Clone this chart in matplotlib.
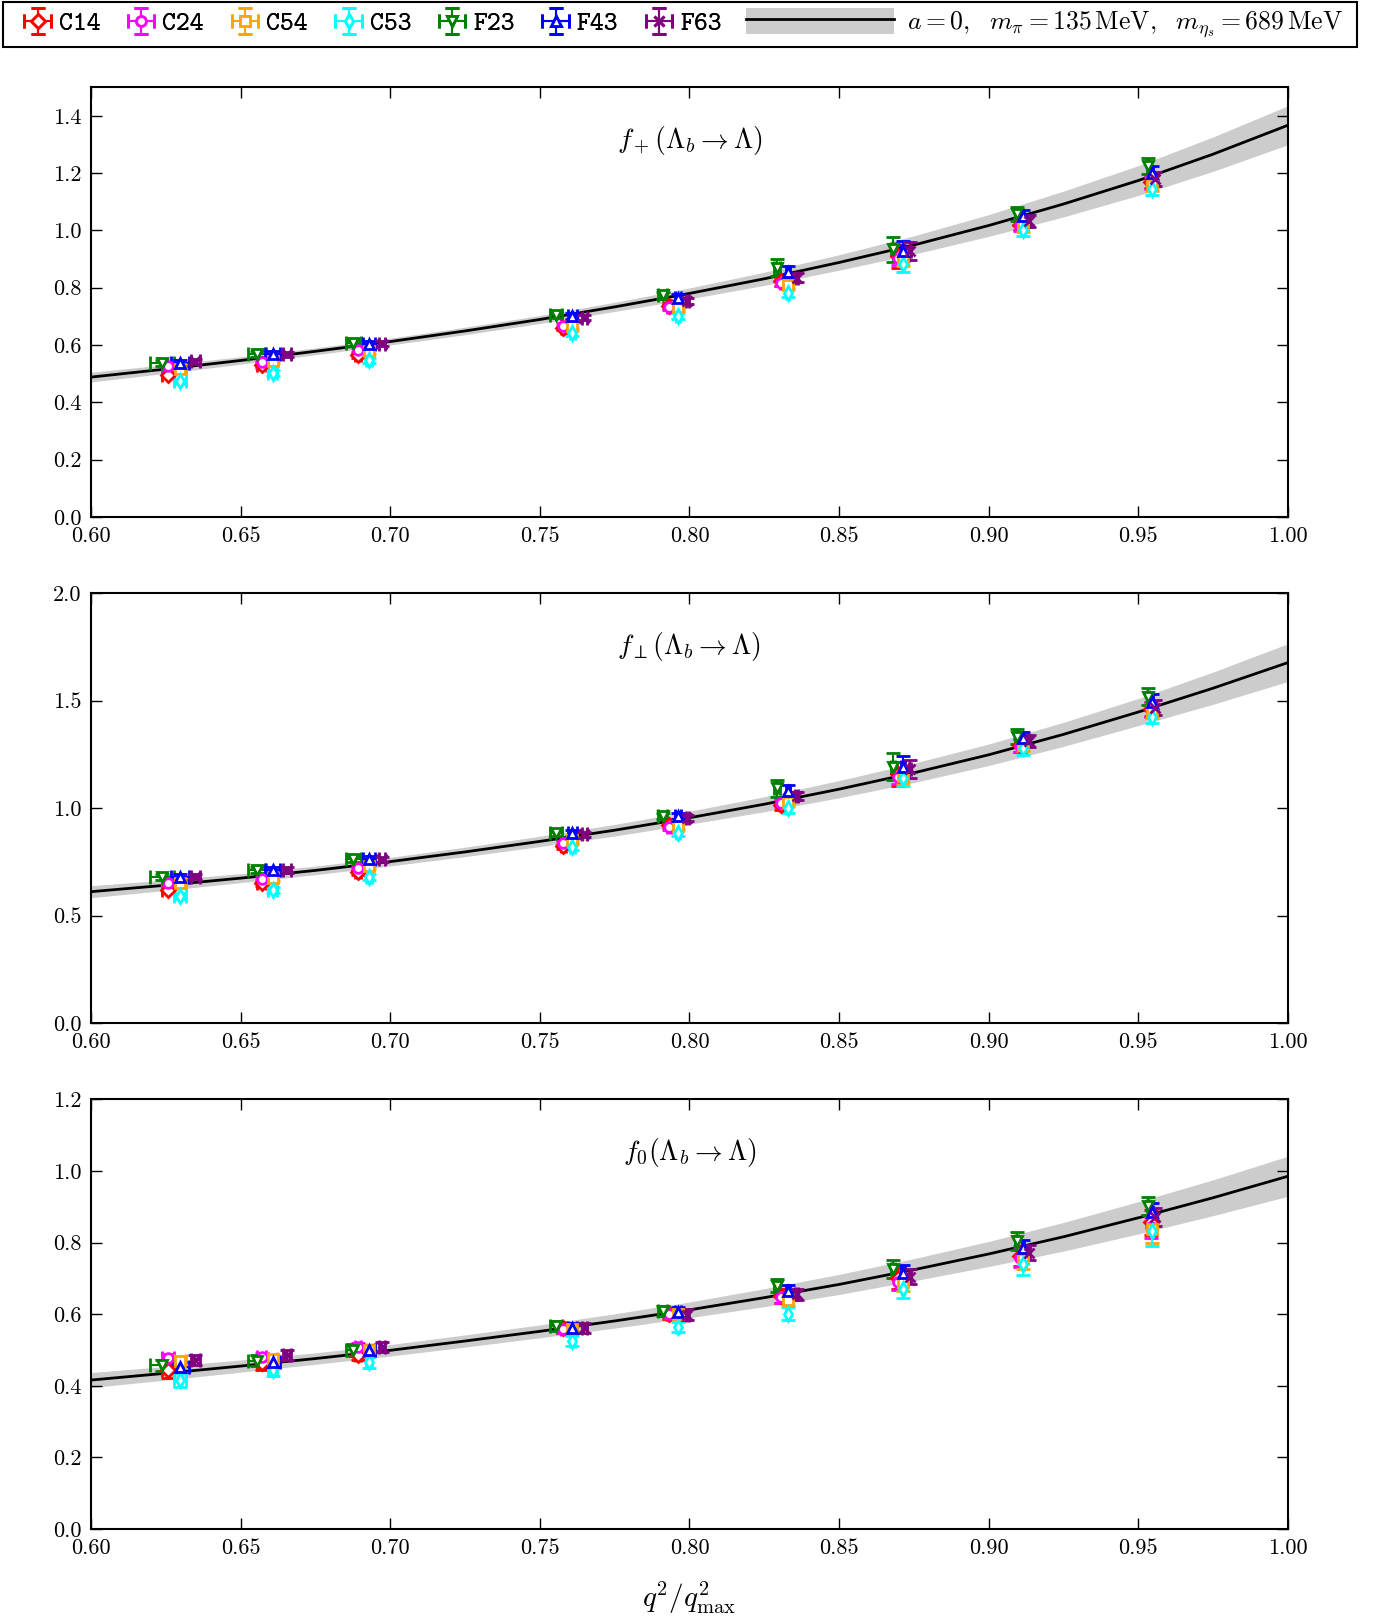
"""Lambda_b -> Lambda form factors vs q^2/q^2_max, three stacked panels."""

import matplotlib

matplotlib.use("Agg")
import matplotlib.pyplot as plt
from matplotlib.lines import Line2D
from matplotlib.patches import Patch, Rectangle
from matplotlib.legend_handler import HandlerTuple
from matplotlib.ticker import FormatStrFormatter, MultipleLocator

plt.rcParams["font.family"] = "serif"
plt.rcParams["font.serif"] = ["cmr10", "DejaVu Serif"]
plt.rcParams["mathtext.fontset"] = "cm"
plt.rcParams["axes.formatter.use_mathtext"] = True

ensembles = ["C14", "C24", "C54", "C53", "F23", "F43", "F63"]
colors = ["red", "magenta", "orange", "cyan", "green", "blue", "purple"]
markers = ["D", "o", "s", "d", "v", "^", "x"]

# q^2/q^2_max of each data point
x_vals = {
    "C14": [0.6258, 0.6571, 0.6892, 0.7578, 0.7932, 0.8306, 0.8697, 0.9104, 0.9541],
    "C24": [0.6258, 0.6571, 0.6892, 0.7578, 0.7932, 0.8306, 0.8697, 0.9104, 0.9541],
    "C54": [0.6298, 0.6608, 0.6929, 0.7608, 0.7962, 0.8329, 0.8713, 0.9114, 0.9546],
    "C53": [0.6298, 0.6608, 0.6929, 0.7608, 0.7962, 0.8329, 0.8713, 0.9114, 0.9546],
    "F23": [0.6237, 0.6555, 0.6876, 0.7555, 0.7911, 0.8292, 0.8680, 0.9094, 0.9532],
    "F43": [0.6297, 0.6608, 0.6929, 0.7608, 0.7962, 0.8329, 0.8713, 0.9114, 0.9546],
    "F63": [0.6348, 0.6655, 0.6972, 0.7648, 0.7993, 0.8359, 0.8737, 0.9134, 0.9556],
}
x_errs = {
    "C14": [0.0020, 0.0015, 0.0010, 0.0008, 0.0006, 0.0005, 0.0004, 0.0003, 0.0002],
    "C24": [0.0020, 0.0015, 0.0010, 0.0008, 0.0006, 0.0005, 0.0004, 0.0003, 0.0002],
    "C54": [0.0020, 0.0015, 0.0010, 0.0008, 0.0006, 0.0005, 0.0004, 0.0003, 0.0002],
    "C53": [0.0020, 0.0015, 0.0010, 0.0008, 0.0006, 0.0005, 0.0004, 0.0003, 0.0002],
    "F23": [0.0040, 0.0030, 0.0025, 0.0020, 0.0015, 0.0010, 0.0008, 0.0005, 0.0003],
    "F43": [0.0030, 0.0025, 0.0020, 0.0015, 0.0010, 0.0008, 0.0006, 0.0004, 0.0003],
    "F63": [0.0015, 0.0012, 0.0010, 0.0008, 0.0006, 0.0005, 0.0004, 0.0003, 0.0002],
}

fplus_vals = {
    "C14": [0.497, 0.531, 0.566, 0.660, 0.735, 0.822, 0.910, 1.020, 1.170],
    "C24": [0.526, 0.540, 0.581, 0.668, 0.732, 0.817, 0.905, 1.018, 1.165],
    "C54": [0.516, 0.545, 0.578, 0.668, 0.732, 0.811, 0.900, 1.015, 1.160],
    "C53": [0.473, 0.502, 0.546, 0.642, 0.700, 0.782, 0.881, 1.003, 1.143],
    "F23": [0.537, 0.569, 0.607, 0.704, 0.773, 0.870, 0.934, 1.056, 1.225],
    "F43": [0.537, 0.569, 0.605, 0.700, 0.765, 0.854, 0.928, 1.050, 1.201],
    "F63": [0.543, 0.567, 0.605, 0.695, 0.753, 0.835, 0.928, 1.033, 1.178],
}
fplus_errs = {
    "C14": [0.012, 0.010, 0.010, 0.008, 0.010, 0.015, 0.040, 0.020, 0.022],
    "C24": [0.008, 0.008, 0.008, 0.008, 0.010, 0.012, 0.025, 0.020, 0.022],
    "C54": [0.008, 0.008, 0.008, 0.008, 0.010, 0.012, 0.025, 0.020, 0.022],
    "C53": [0.010, 0.010, 0.010, 0.010, 0.010, 0.014, 0.025, 0.022, 0.020],
    "F23": [0.010, 0.010, 0.010, 0.010, 0.012, 0.029, 0.044, 0.025, 0.028],
    "F43": [0.010, 0.010, 0.010, 0.010, 0.012, 0.020, 0.035, 0.022, 0.025],
    "F63": [0.008, 0.008, 0.008, 0.008, 0.010, 0.015, 0.030, 0.020, 0.024],
}

fperp_vals = {
    "C14": [0.619, 0.650, 0.704, 0.823, 0.920, 1.014, 1.158, 1.293, 1.460],
    "C24": [0.653, 0.668, 0.722, 0.836, 0.910, 1.022, 1.146, 1.290, 1.460],
    "C54": [0.651, 0.673, 0.730, 0.851, 0.916, 1.029, 1.150, 1.295, 1.450],
    "C53": [0.591, 0.619, 0.681, 0.817, 0.885, 0.999, 1.138, 1.278, 1.425],
    "F23": [0.681, 0.712, 0.761, 0.882, 0.963, 1.092, 1.192, 1.332, 1.518],
    "F43": [0.681, 0.712, 0.761, 0.884, 0.963, 1.081, 1.192, 1.324, 1.494],
    "F63": [0.681, 0.712, 0.761, 0.878, 0.952, 1.056, 1.180, 1.313, 1.468],
}
fperp_errs = {
    "C14": [0.016, 0.014, 0.014, 0.012, 0.014, 0.024, 0.055, 0.030, 0.035],
    "C24": [0.012, 0.012, 0.012, 0.012, 0.014, 0.018, 0.035, 0.030, 0.032],
    "C54": [0.012, 0.012, 0.012, 0.012, 0.014, 0.018, 0.035, 0.030, 0.032],
    "C53": [0.014, 0.014, 0.014, 0.014, 0.014, 0.020, 0.035, 0.032, 0.030],
    "F23": [0.014, 0.014, 0.014, 0.014, 0.016, 0.040, 0.062, 0.035, 0.040],
    "F43": [0.014, 0.014, 0.014, 0.014, 0.016, 0.028, 0.050, 0.032, 0.036],
    "F63": [0.012, 0.012, 0.012, 0.012, 0.014, 0.020, 0.042, 0.028, 0.034],
}

fzero_vals = {
    "C14": [0.443, 0.463, 0.487, 0.560, 0.600, 0.650, 0.700, 0.763, 0.856],
    "C24": [0.478, 0.480, 0.508, 0.559, 0.600, 0.647, 0.690, 0.758, 0.842],
    "C54": [0.468, 0.474, 0.500, 0.559, 0.600, 0.640, 0.690, 0.755, 0.838],
    "C53": [0.417, 0.443, 0.466, 0.526, 0.563, 0.601, 0.670, 0.740, 0.833],
    "F23": [0.457, 0.470, 0.500, 0.568, 0.610, 0.679, 0.726, 0.805, 0.903],
    "F43": [0.452, 0.466, 0.499, 0.562, 0.605, 0.665, 0.714, 0.786, 0.884],
    "F63": [0.472, 0.487, 0.508, 0.562, 0.599, 0.655, 0.705, 0.772, 0.870],
}
fzero_errs = {
    "C14": [0.021, 0.018, 0.016, 0.014, 0.014, 0.020, 0.030, 0.028, 0.035],
    "C24": [0.012, 0.012, 0.012, 0.012, 0.012, 0.015, 0.022, 0.025, 0.030],
    "C54": [0.012, 0.012, 0.012, 0.012, 0.012, 0.016, 0.025, 0.030, 0.040],
    "C53": [0.020, 0.016, 0.015, 0.014, 0.014, 0.018, 0.025, 0.030, 0.042],
    "F23": [0.016, 0.016, 0.016, 0.014, 0.014, 0.018, 0.025, 0.025, 0.025],
    "F43": [0.014, 0.014, 0.014, 0.014, 0.014, 0.016, 0.022, 0.022, 0.025],
    "F63": [0.014, 0.014, 0.014, 0.014, 0.014, 0.016, 0.022, 0.022, 0.025],
}

# continuum / physical-mass fit curve and its error band
curve_x = [0.600, 0.625, 0.650, 0.675, 0.700, 0.725, 0.750, 0.775, 0.800,
           0.825, 0.850, 0.875, 0.900, 0.925, 0.950, 0.975, 1.000]
fplus_curve = [0.488, 0.516, 0.546, 0.578, 0.612, 0.649, 0.689, 0.733, 0.780,
               0.831, 0.888, 0.949, 1.017, 1.092, 1.174, 1.266, 1.367]
fplus_band = [0.017, 0.015, 0.013, 0.012, 0.012, 0.013, 0.014, 0.016, 0.019,
              0.023, 0.027, 0.032, 0.038, 0.045, 0.052, 0.060, 0.068]
fperp_curve = [0.611, 0.641, 0.674, 0.710, 0.751, 0.796, 0.845, 0.897, 0.955,
               1.018, 1.088, 1.164, 1.248, 1.343, 1.447, 1.558, 1.677]
fperp_band = [0.028, 0.024, 0.021, 0.020, 0.020, 0.022, 0.024, 0.027, 0.030,
              0.035, 0.040, 0.045, 0.050, 0.056, 0.063, 0.075, 0.088]
fzero_curve = [0.416, 0.435, 0.455, 0.476, 0.499, 0.525, 0.552, 0.581, 0.612,
               0.646, 0.683, 0.724, 0.768, 0.816, 0.869, 0.925, 0.985]
fzero_band = [0.021, 0.019, 0.017, 0.016, 0.016, 0.017, 0.018, 0.020, 0.022,
              0.025, 0.028, 0.031, 0.035, 0.040, 0.045, 0.050, 0.056]

panels = [
    (r"$f_+(\Lambda_b\to\Lambda)$", fplus_vals, fplus_errs, fplus_curve, fplus_band, 1.5, 0.2),
    (r"$f_\perp(\Lambda_b\to\Lambda)$", fperp_vals, fperp_errs, fperp_curve, fperp_band, 2.0, 0.5),
    (r"$f_0(\Lambda_b\to\Lambda)$", fzero_vals, fzero_errs, fzero_curve, fzero_band, 1.2, 0.2),
]
bottoms = [0.6813, 0.3693, 0.0573]

fig = plt.figure(figsize=(13.87, 16.22), dpi=100)

handles = []
for k, (title, vals, errs, curve, band, ytop, ystep) in enumerate(panels):
    ax = fig.add_axes([0.0656, bottoms[k], 0.8630, 0.2650])
    lo = [c - b for c, b in zip(curve, band)]
    hi = [c + b for c, b in zip(curve, band)]
    ax.fill_between(curve_x, lo, hi, color="#cccccc", lw=0, zorder=1)
    ax.plot(curve_x, curve, color="black", lw=2, zorder=2)
    for name, col, mk in zip(ensembles, colors, markers):
        eb = ax.errorbar(x_vals[name], vals[name], xerr=x_errs[name], yerr=errs[name],
                         fmt=mk, color=col, mfc="white", mec=col, mew=2, ms=7,
                         elinewidth=1.5, capsize=5, capthick=2, zorder=3)
        if k == 0:
            handles.append(eb)
    ax.text(0.5, 0.876, title, transform=ax.transAxes, ha="center", va="center", fontsize=20)
    ax.set_xlim(0.6, 1.0)
    ax.set_ylim(0.0, ytop)
    ax.xaxis.set_major_locator(MultipleLocator(0.05))
    ax.yaxis.set_major_locator(MultipleLocator(ystep))
    ax.xaxis.set_major_formatter(FormatStrFormatter("%.2f"))
    ax.yaxis.set_major_formatter(FormatStrFormatter("%.1f"))
    ax.tick_params(direction="in", top=True, right=True, length=8, width=1,
                   labelsize=16, pad=7)
    for sp in ax.spines.values():
        sp.set_linewidth(1.5)

fig.text(0.4967, 1 - 1598 / 1622, r"$q^2/q^2_{\rm max}$", ha="center", va="center", fontsize=21)

# legend: errorbar entries + fit band entry, inside one shared frame
leg1 = fig.legend(handles, ensembles, loc="center left", bbox_to_anchor=(-0.0014, 1 - 24 / 1622),
                  ncol=7, frameon=False, numpoints=1, handlelength=1.2, handletextpad=0.2,
                  columnspacing=0.95, prop={"family": "cmtt10", "size": 19})
fig.add_artist(leg1)
fit_handle = (Patch(facecolor="#cccccc", edgecolor="none"), Line2D([], [], color="black", lw=2))
fig.legend([fit_handle],
           [r"$a=0,\ \ m_\pi=135\,\mathrm{MeV},\ \ m_{\eta_s}=689\,\mathrm{MeV}$"],
           handler_map={tuple: HandlerTuple(ndivide=1, pad=0)},
           loc="center right", bbox_to_anchor=(0.9845, 1 - 24 / 1622), frameon=False,
           handlelength=5.75, handleheight=1.2, handletextpad=0.5, fontsize=18.5)
fig.add_artist(Rectangle((3 / 1387, 1 - 47 / 1622), 1354 / 1387, 45 / 1622,
                         transform=fig.transFigure, fill=False, ec="black", lw=1.5))

fig.savefig("out.png", dpi=100)
plt.close(fig)
